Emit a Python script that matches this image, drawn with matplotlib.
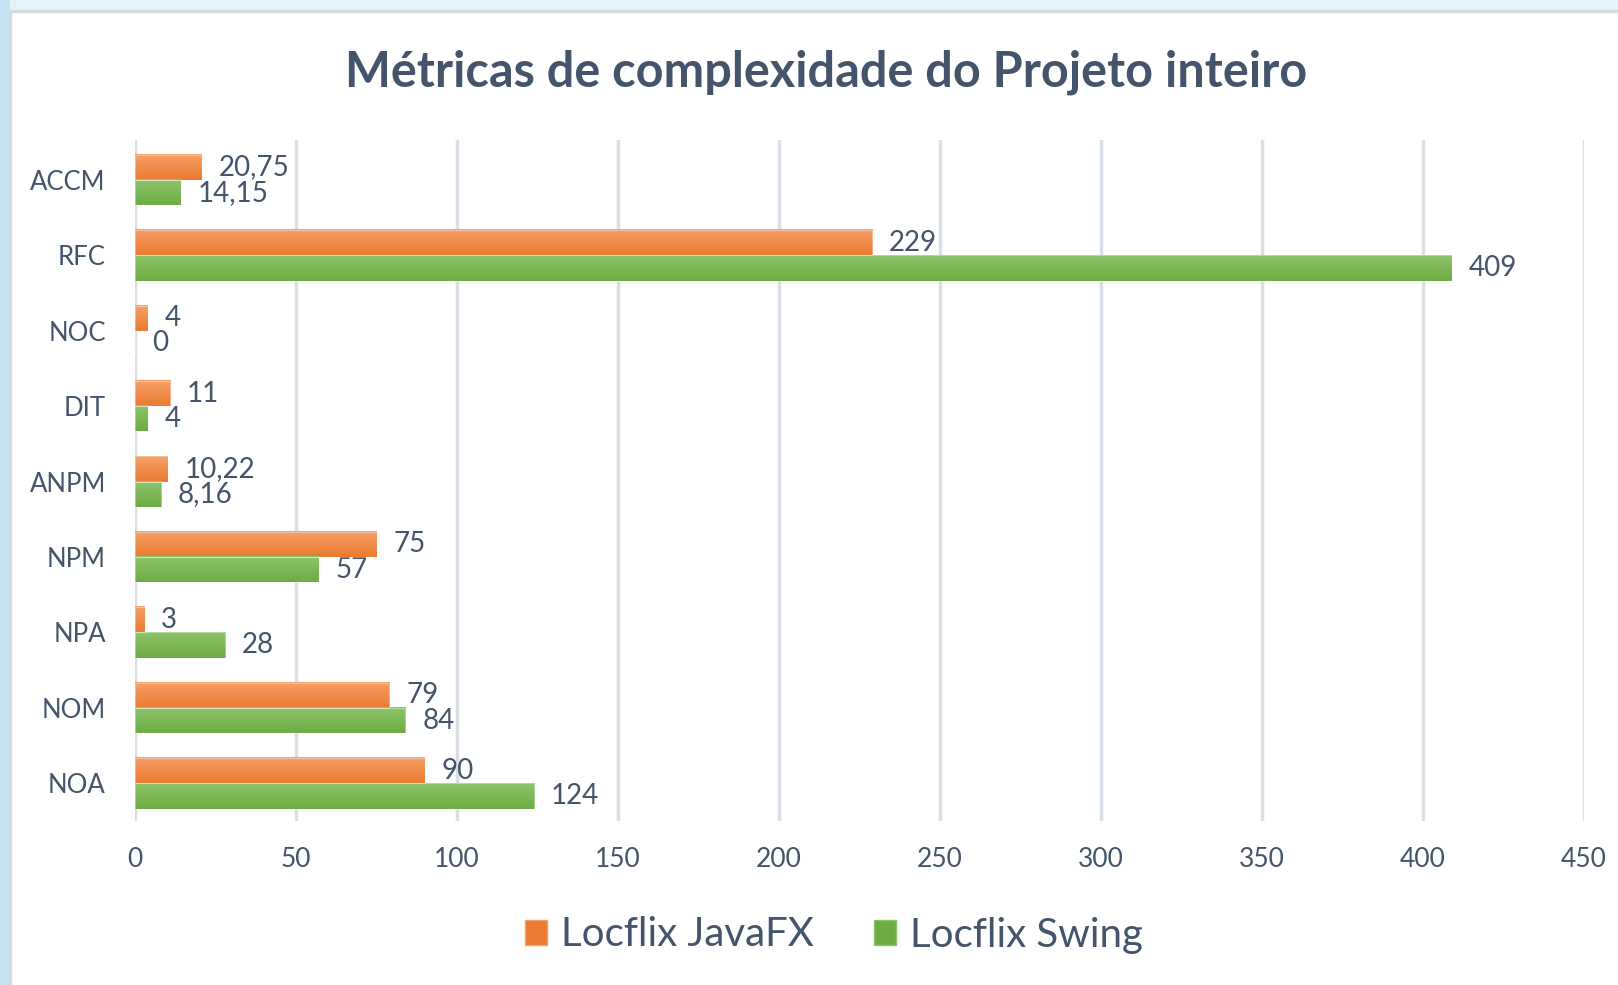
import matplotlib
matplotlib.use("Agg")
import matplotlib.pyplot as plt
import numpy as np
from matplotlib.patches import Rectangle
from matplotlib.colors import LinearSegmentedColormap

# dados (de cima para baixo no grafico)
metricas = ["ACCM", "RFC", "NOC", "DIT", "ANPM", "NPM", "NPA", "NOM", "NOA"]
javafx = [20.75, 229, 4, 11, 10.22, 75, 3, 79, 90]
swing = [14.15, 409, 0, 4, 8.16, 57, 28, 84, 124]
series_nomes = ["Locflix JavaFX", "Locflix Swing"]
xticks = [0, 50, 100, 150, 200, 250, 300, 350, 400, 450]

texto_cor = "#44546A"
grade_cor = "#D9DFE7"
laranja = ("#F5A068", "#EB7B30")
verde = ("#8DC46A", "#6DAB43")

plt.rcParams['font.family'] = ['Lato', 'DejaVu Sans']

fig = plt.figure(figsize=(16.18, 9.85), dpi=100)
fig.patch.set_facecolor("#E6F2FA")
# faixa azul da esquerda
fig.patches.append(Rectangle((0, 0), 10 / 1618, 1, transform=fig.transFigure,
                             facecolor="#C6E3F5", edgecolor="none", zorder=-3))
# area branca do grafico
fig.patches.append(Rectangle((10 / 1618, -0.01), 1.0, 1 - 11 / 985 + 0.01,
                             transform=fig.transFigure, facecolor="white",
                             edgecolor="#D3DAE2", linewidth=2.5, zorder=-2))

ax = fig.add_axes([135 / 1618, 1 - 821 / 985, (1584 - 135) / 1618, (821 - 140) / 985])
ax.set_facecolor("none")

n = len(metricas)
pos = np.arange(n)[::-1]
h = 0.335


def barra_grad(ax, x, y, w, hh, cores):
    cmap = LinearSegmentedColormap.from_list("g", [cores[1], cores[0]])
    grad = np.linspace(0, 1, 32).reshape(-1, 1)
    ax.imshow(grad, extent=(x, x + w, y, y + hh), origin="lower", aspect="auto",
              cmap=cmap, zorder=3, interpolation="bilinear")
    ax.add_patch(Rectangle((x, y), w, hh, facecolor="none", edgecolor="white",
                           linewidth=0.8, alpha=0.35, zorder=4))


def fmt(v):
    if float(v).is_integer():
        return str(int(v))
    return ("%.2f" % v).replace(".", ",")


for i in range(n):
    yc = pos[i] - 0.03
    # laranja em cima, verde em baixo
    barra_grad(ax, 0, yc, javafx[i], h, laranja)
    barra_grad(ax, 0, yc - h, swing[i], h, verde)
    ax.annotate(fmt(javafx[i]), (javafx[i], yc + h / 2), xytext=(12, 0),
                textcoords="offset points", va="center", ha="left",
                fontsize=20, color=texto_cor)
    ax.annotate(fmt(swing[i]), (swing[i], yc - h / 2), xytext=(12, 0),
                textcoords="offset points", va="center", ha="left",
                fontsize=20, color=texto_cor)

ax.set_xlim(0, 450)
ax.set_ylim(-0.53, n - 0.5)
ax.set_xticks(xticks)
ax.set_yticks(pos - 0.03)
ax.set_yticklabels(metricas)
ax.xaxis.grid(True, color=grade_cor, linewidth=2.5, zorder=0)
ax.set_axisbelow(True)
for s in ax.spines.values():
    s.set_visible(False)
ax.tick_params(axis="x", length=0, labelsize=19, labelcolor=texto_cor, pad=19)
ax.tick_params(axis="y", length=0, labelsize=18.5, labelcolor=texto_cor, pad=21)

fig.text(826 / 1618, 1 - 72 / 985, "Métricas de complexidade do Projeto inteiro",
         ha="center", va="center", fontsize=35, fontweight="bold", color=texto_cor)

# legenda
handles = [Rectangle((0, 0), 1, 1, facecolor=laranja[1], edgecolor=laranja[0]),
           Rectangle((0, 0), 1, 1, facecolor=verde[1], edgecolor=verde[0])]
leg = fig.legend(handles, series_nomes, loc="center", bbox_to_anchor=(834 / 1618, 1 - 935 / 985),
                 ncol=2, frameon=False, fontsize=29, handlelength=0.55, handleheight=0.6,
                 handletextpad=0.35, columnspacing=1.5)
for t in leg.get_texts():
    t.set_color(texto_cor)

fig.savefig("out.png", dpi=100, facecolor=fig.get_facecolor())
